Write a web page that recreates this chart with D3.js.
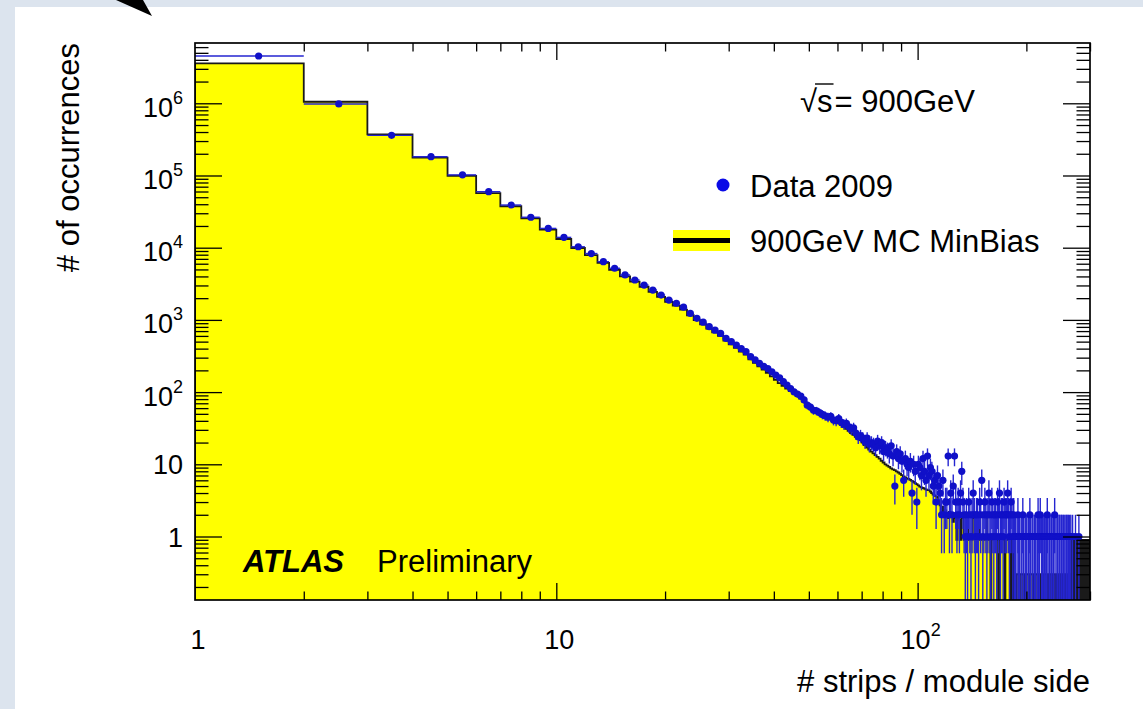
<!DOCTYPE html>
<html><head><meta charset="utf-8">
<script src="https://cdn.jsdelivr.net/npm/d3@7"></script>
<style>
body{margin:0;background:#fff}
svg{display:block}
text{font-family:"Liberation Sans",Arial,Helvetica,sans-serif;fill:#000}
</style>
</head><body>
<svg id="c" width="1143" height="709"></svg>
<script>
// Bins are integer strip counts: bin i covers [i+1, i+2)
const dataCounts = [
4520000,980000,360000,182000,102000,59700,39000,26400,18500,13900,
10300,8300,6400,5190,4190,3570,3040,2590,2210,1880,
1700,1500,1230,1050,930,805,720,650,556,500,
449,400,363,310,280,251,228,212,190,172,
158,140,125,112,101,94,88,78,66,62,
56,55,52,49,47,45,46,41,40,43,
38,36,37,33,31,32,27,24,25,23,
21,23,19,20,19,17,21,18,20,15,
17,16,14,18,13,5,15,12,14,11,
6,12,10,9,11,4,10,8,3,10,
9,7,12,8,6,13,7,9,8,5,
6,3,7,5,4,2,6,2,3,3,
13,2,4,2,5,13,3,2,3,2,
4,8,3,2,1,2,1,3,2,1,
2,4,2,1,2,2,1,3,2,6,
1,2,3,2,1,2,4,2,1,3,
2,1,2,2,1,3,2,4,1,2,
2,1,3,2,2,2,4,2,1,2,
3,2,1,2,1,1,0,1,2,1,
1,0,1,1,2,1,0,1,1,1,
0,1,1,2,1,0,1,1,0,1,
1,1,0,1,2,1,1,2,0,1,
1,0,1,1,1,0,1,2,1,0,
1,1,0,1,1,0,1,1,2,0,
1,0,1,1,0,1,1,0,1,1,
0,1,1,0,1,0,1,1,0,1,
1,0,1,0,1,0,0,1,0,0,
0,0,1,0,0,0,0,0,1,0,
0,0,0,0,0,0,0,0,0,0,
0,0,0,0,0,0,0,0,0
];
const mcCounts = [
3580000,1050000,372000,177000,98500,57000,37500,25500,17800,13200,
9900,7900,6150,4950,4000,3380,2880,2440,2080,1780,
1580,1390,1160,990,870,755,670,600,515,460,
410,365,330,285,255,228,205,185,165,148,
133,122,112,103,95,88,81,74,68,63,
60,56,53,50,47,45,43,41,39,37,
35,33,31,29,27,25.5,24,23,21.7,20,
18.5,17,16,15,14.2,13.4,12.7,12,11.2,10.6,
10,9.6,9.2,8.8,8.5,8.3,8.0,7.7,7.4,7.1,
6.8,6.6,6.4,6.3,6.1,5.9,5.7,5.5,5.3,5.1,
4.9,4.8,4.7,4.6,4.5,4.4,4.4,4.2,4.0,3.8,
3.7,3.6,3.5,3.2,2.7,2.2,2.6,1.9,2.3,2.0,
1.8,2.2,1.9,1.9,1.6,2.0,1.8,0.9,1.8,1.7,
0.9,1.8,1.8,0.9,0.9,0.9,1.8,0.9,0.9,0.9,
0.9,1.8,1.8,0.9,0.9,0.9,0.9,1.8,0.9,0.9,
0.9,0.9,0.9,0.9,1.8,0.9,0.9,0.9,0,0.9,
0.9,0.9,0.9,0.9,0.9,0.9,0,0.9,0.9,0.9,
0.9,0.9,0.9,0,0.9,0.9,0.9,0.9,0.9,0,
0.9,0.4,0,0.9,0.4,0.3,0,0.3,0.3,0.3,
0,0.3,0.3,0.3,0.3,0,0.3,0.3,0,0.3,
0.3,0.3,0,0.3,0.3,0.3,0.3,0,0.3,0.3,
0,0.3,0.3,0.3,0,0.3,0.3,0,0.3,0.3,
0.3,0,0.3,0.3,0.3,0.3,0,0.3,0.3,0,
0.3,0.3,0.3,0,0.3,0.3,0,0.3,0.3,0.3,
0,0.3,0.3,0,0.3,0.3,0.3,0,0.3,0.3,
0,0.3,0.3,0.3,0,0.3,0.3,0,0.3,0.3,
0.3,0,0.3,0.3,0,0.9,0,0.4,0,0.9,
0,0.4,0.9,0,0.4,0,0.9,0,0.4,0,
0.9,0,0.4,0.9,0,0.4,0,0.9,0,0.4,
0,0.9,0.4,0,0.9,0,0.4,0,0.9
];
const xTickVals = [1, 10, 100];
const xTickBase = ["1", "10", "10"];
const xTickExp  = ["", "", "2"];
const yTickVals = [1, 10, 100, 1000, 10000, 100000, 1000000];
const yTickBase = ["1", "10", "10", "10", "10", "10", "10"];
const yTickExp  = ["", "", "2", "3", "4", "5", "6"];
const xTitle = "# strips / module side";
const yTitle = "# of occurrences";
const legendLabels = ["Data 2009", "900GeV MC MinBias"];

const svg = d3.select("#c");
const m = {l:195, r:1090, t:43, b:600};
const x = d3.scaleLog().domain([1, 300]).range([m.l, m.r]);
const y = d3.scaleLog().domain([0.132, 6.84e6]).range([m.b, m.t]);
const below = m.b + 6;
const yv = v => v > 0 ? y(v) : below;

// background
svg.append("rect").attr("width",1143).attr("height",709).attr("fill","#dce4ee");
svg.append("rect").attr("x",15).attr("y",7).attr("width",1128).attr("height",702).attr("fill","#ffffff");
// arrow head at top-left
svg.append("polygon").attr("points","116,0 143,0 152,16").attr("fill","#000");

svg.append("clipPath").attr("id","pc").append("rect")
  .attr("x",m.l).attr("y",m.t).attr("width",m.r-m.l).attr("height",m.b-m.t);
const g = svg.append("g").attr("clip-path","url(#pc)");

// MC histogram
const mcPts = mcCounts.map((v,i)=>({x:i+1, v}));
mcPts.push({x:mcCounts.length+1, v:mcCounts[mcCounts.length-1]});
g.append("path").datum(mcPts)
  .attr("d", d3.area().curve(d3.curveStepAfter).x(d=>x(d.x)).y0(below).y1(d=>yv(d.v)))
  .attr("fill","#ffff00");
g.append("path").datum([{x:1,v:0}].concat(mcPts))
  .attr("d", d3.line().curve(d3.curveStepAfter).x(d=>x(d.x)).y(d=>yv(d.v)))
  .attr("fill","none").attr("stroke","#1a1a1a").attr("stroke-width",1.8);

// Data points
const pts = dataCounts.map((v,i)=>({lo:i+1, hi:i+2, v})).filter(d=>d.v>0);
const eg = g.append("g").attr("stroke","#2525d0").attr("stroke-width",1.4);
eg.selectAll("line.h").data(pts).join("line").attr("class","h")
  .attr("x1",d=>x(d.lo)).attr("x2",d=>x(d.hi)).attr("y1",d=>y(d.v)).attr("y2",d=>y(d.v));
eg.selectAll("line.v").data(pts).join("line").attr("class","v")
  .attr("x1",d=>x((d.lo+d.hi)/2)).attr("x2",d=>x((d.lo+d.hi)/2))
  .attr("y1",d=>y(d.v+Math.sqrt(d.v)))
  .attr("y2",d=>{const lo=d.v-Math.sqrt(d.v); return lo>0?y(lo):below;});
g.append("g").selectAll("circle").data(pts).join("circle")
  .attr("cx",d=>x((d.lo+d.hi)/2)).attr("cy",d=>y(d.v)).attr("r",3.6)
  .attr("fill","#1010c8");

// ticks
const xMinor = [];
[1,10,100].forEach(dec=>{for(let k=2;k<=9;k++){const v=k*dec; if(v<=300) xMinor.push(v);}});
const yMinor = [];
[0.1,1,10,100,1e3,1e4,1e5,1e6].forEach(dec=>{for(let k=2;k<=9;k++){const v=k*dec; if(v>=0.132 && v<=6.84e6) yMinor.push(v);}});
function ax(gen, scale, vals, size, tr){
  const a = svg.append("g").attr("transform",tr)
    .call(gen(scale).tickValues(vals).tickSize(size).tickSizeOuter(0).tickFormat(""));
  a.select(".domain").remove();
  a.selectAll("line").attr("stroke","#000").attr("stroke-width",1.3);
}
ax(d3.axisBottom, x, xTickVals.slice(1), -17, `translate(0,${m.b})`);
ax(d3.axisBottom, x, xMinor, -8.5, `translate(0,${m.b})`);
ax(d3.axisTop, x, xTickVals.slice(1), -17, `translate(0,${m.t})`);
ax(d3.axisTop, x, xMinor, -8.5, `translate(0,${m.t})`);
ax(d3.axisLeft, y, yTickVals, -27, `translate(${m.l},0)`);
ax(d3.axisLeft, y, yMinor, -13.5, `translate(${m.l},0)`);
ax(d3.axisRight, y, yTickVals, -27, `translate(${m.r},0)`);
ax(d3.axisRight, y, yMinor, -13.5, `translate(${m.r},0)`);

// frame
svg.append("rect").attr("x",m.l).attr("y",m.t).attr("width",m.r-m.l).attr("height",m.b-m.t)
  .attr("fill","none").attr("stroke","#000").attr("stroke-width",1.7);

// tick labels
xTickVals.forEach((v,i)=>{
  const t = svg.append("text").attr("x",x(v)+3).attr("y",649).attr("text-anchor","middle").attr("font-size",27);
  t.append("tspan").text(xTickBase[i]);
  if(xTickExp[i]) t.append("tspan").attr("dy",-13).attr("font-size",18).text(xTickExp[i]);
});
yTickVals.forEach((v,i)=>{
  const t = svg.append("text").attr("x",183).attr("y",y(v)+(yTickExp[i]?13.5:10)).attr("text-anchor","end").attr("font-size",27);
  t.append("tspan").text(yTickBase[i]);
  if(yTickExp[i]) t.append("tspan").attr("dy",-13).attr("font-size",18).text(yTickExp[i]);
});

// axis titles
svg.append("text").attr("x",1090).attr("y",692).attr("text-anchor","end").attr("font-size",31).text(xTitle);
svg.append("text").attr("transform","translate(79,43) rotate(-90)").attr("text-anchor","end").attr("font-size",31).text(yTitle);

// sqrt(s) label
const r1 = svg.append("text").attr("x",800).attr("y",112).attr("font-size",31).text("\u221A");
const w1 = r1.node().getComputedTextLength();
const s1 = svg.append("text").attr("x",800+w1).attr("y",112).attr("font-size",31).text("s");
const w2 = s1.node().getComputedTextLength();
svg.append("text").attr("x",800+w1+w2+2).attr("y",112).attr("font-size",31).text("= 900GeV");
svg.append("line").attr("x1",800+w1-2).attr("x2",800+w1+w2+1).attr("y1",84).attr("y2",84)
  .attr("stroke","#000").attr("stroke-width",1.4);

// legend
svg.append("circle").attr("cx",723).attr("cy",185).attr("r",6.5).attr("fill","#0a0ae6");
svg.append("text").attr("x",750).attr("y",197).attr("font-size",31).text(legendLabels[0]);
svg.append("rect").attr("x",673).attr("y",230).attr("width",57).attr("height",21).attr("fill","#ffff00");
svg.append("line").attr("x1",673).attr("x2",730).attr("y1",240.5).attr("y2",240.5).attr("stroke","#000").attr("stroke-width",5);
svg.append("text").attr("x",750).attr("y",252).attr("font-size",31).text(legendLabels[1]);

// ATLAS Preliminary
svg.append("text").attr("x",243).attr("y",572).attr("font-size",31).attr("font-weight","bold").attr("font-style","italic").text("ATLAS");
svg.append("text").attr("x",377).attr("y",572).attr("font-size",31).text("Preliminary");
</script>
</body></html>
